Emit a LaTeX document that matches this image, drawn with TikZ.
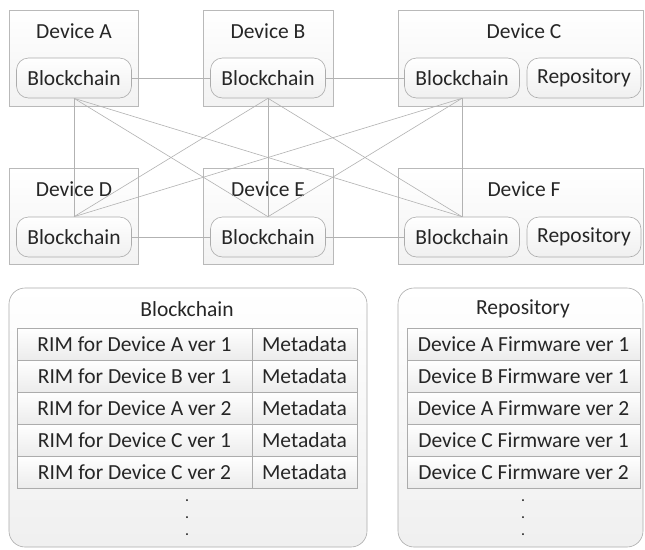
\documentclass[tikz,border=0pt]{standalone}
\usepackage{fontspec}
\setmainfont{Carlito}
\begin{document}
\begin{tikzpicture}[x=1pt,y=-1pt,
  every node/.style={font=\fontsize{21.5}{25}\selectfont, text=black!85},
  devbox/.style={draw=gray!55, line width=0.6pt, top color=white, bottom color=gray!10, inner sep=0, minimum height=96pt},
  pill/.style={draw=gray!65, line width=0.6pt, rounded corners=12pt, top color=white, bottom color=gray!12, minimum width=115pt, minimum height=40pt, inner sep=0},
  link/.style={draw=gray!60, line width=0.6pt},
  panel/.style={draw=gray!65, line width=0.6pt, rounded corners=16pt, top color=white, bottom color=gray!12, inner sep=0, minimum height=259pt},
  cell/.style={draw=gray!65, line width=0.6pt, top color=white, bottom color=gray!15, minimum height=32pt, inner sep=0},
  ttl/.style={inner sep=0},
  dotmark/.style={inner sep=0, align=center, font=\bfseries\fontsize{13}{17}\selectfont}]
\fill[white] (0,0) rectangle (645,549);
\useasboundingbox (0,0) rectangle (645,549);
% device boxes
\node[devbox, minimum width=129pt] (devA) at (73.5,58) {};
\node[devbox, minimum width=130pt] (devB) at (268,58) {};
\node[devbox, minimum width=245pt] (devC) at (520.5,58) {};
\node[devbox, minimum width=129pt] (devD) at (73.5,216.5) {};
\node[devbox, minimum width=130pt] (devE) at (268,216.5) {};
\node[devbox, minimum width=245pt] (devF) at (520.5,216.5) {};
% device labels
\node[ttl] (labA) at (74,31) {Device A};
\node[ttl] (labB) at (268,31) {Device B};
\node[ttl] (labC) at (524,31) {Device C};
\node[ttl] (labD) at (74,189) {Device D};
\node[ttl] (labE) at (268,189) {Device E};
\node[ttl] (labF) at (524,189) {Device F};
% pills
\node[pill] (bcA) at (74,78) {Blockchain};
\node[pill] (bcB) at (268,78) {Blockchain};
\node[pill] (bcC) at (462,78) {Blockchain};
\node[pill, minimum width=114pt] (repC) at (584,78) {Repository};
\node[pill] (bcD) at (74,237) {Blockchain};
\node[pill] (bcE) at (268,237) {Blockchain};
\node[pill] (bcF) at (462,237) {Blockchain};
\node[pill, minimum width=114pt] (repF) at (584,237) {Repository};
% links
\draw[link] (bcA) -- (bcB);
\draw[link] (bcB) -- (bcC);
\draw[link] (bcD) -- (bcE);
\draw[link] (bcE) -- (bcF);
\foreach \s in {bcA,bcB,bcC}{
  \foreach \t in {bcD,bcE,bcF}{
    \draw[link] (\s.south) -- (\t.north);
  }
}
% lower panels
\node[panel, minimum width=358pt] (bcPanel) at (188,417.5) {};
\node[panel, minimum width=245pt] (repPanel) at (520.5,417.5) {};
\node[ttl] (bcTitle) at (187,309) {Blockchain};
\node[ttl] (repTitle) at (523,309) {Repository};
\foreach \i/\txt/\ftxt in {1/RIM for Device A ver 1/Device A Firmware ver 1,
                           2/RIM for Device B ver 1/Device B Firmware ver 1,
                           3/RIM for Device A ver 2/Device A Firmware ver 2,
                           4/RIM for Device C ver 1/Device C Firmware ver 1,
                           5/RIM for Device C ver 2/Device C Firmware ver 2}{
  \pgfmathsetmacro{\yy}{312+32*\i}
  \node[cell, minimum width=235pt] (rim\i) at (134.5,\yy) {\txt};
  \node[cell, minimum width=105pt] (meta\i) at (304.5,\yy) {Metadata};
  \node[cell, minimum width=233pt] (fw\i) at (523.5,\yy) {\ftxt};
}
% ellipsis dots
\node[dotmark] (bdots) at (187,518) {.\\.\\.};
\node[dotmark] (rdots) at (523,518) {.\\.\\.};
\end{tikzpicture}
\end{document}
